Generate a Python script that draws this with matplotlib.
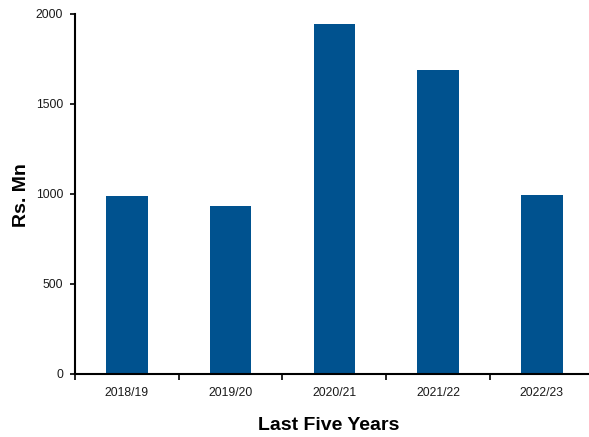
import matplotlib
matplotlib.use("Agg")
import matplotlib.pyplot as plt

categories = ["2018/19", "2019/20", "2020/21", "2021/22", "2022/23"]
values = [990, 935, 1945, 1688, 992]
yticks = [0, 500, 1000, 1500, 2000]

plt.rcParams['font.family'] = ['Liberation Sans', 'DejaVu Sans']

W, H = 589, 437
fig = plt.figure(figsize=(W / 100, H / 100), dpi=100)
ax = fig.add_axes([75 / W, (H - 374) / H, (W - 75) / W, 360 / H])

x = list(range(len(categories)))
ax.bar(x, values, width=0.40, color="#00528F", zorder=2)

ax.set_ylim(0, 2000)
ax.set_xlim(-0.5, 4.455)
ax.set_yticks(yticks)
ax.set_yticklabels([str(v) for v in yticks], fontsize=8.7, color="#1a1a1a")

ax.set_xticks([-0.5, 0.5, 1.5, 2.5, 3.5])
ax.set_xticklabels([])
ax.set_xticks(x, minor=True)
ax.set_xticklabels(categories, minor=True, fontsize=8.8, color="#1a1a1a")
ax.tick_params(axis='x', which='minor', length=0, pad=9)
ax.tick_params(axis='x', which='major', length=4, width=1.2, direction='out')
ax.tick_params(axis='y', length=3.5, width=1.2, direction='out', pad=5)

for s in ["top", "right"]:
    ax.spines[s].set_visible(False)
for s in ["left", "bottom"]:
    ax.spines[s].set_linewidth(1.5)
    ax.spines[s].set_color("black")

fig.text(22 / W, 1 - 195 / H, "Rs. Mn", rotation=90, ha="center", va="center",
         fontsize=14, fontweight="bold")
fig.text(329 / W, 1 - 426 / H, "Last Five Years", ha="center", va="center",
         fontsize=14, fontweight="bold")

fig.savefig("out.png", dpi=100)
